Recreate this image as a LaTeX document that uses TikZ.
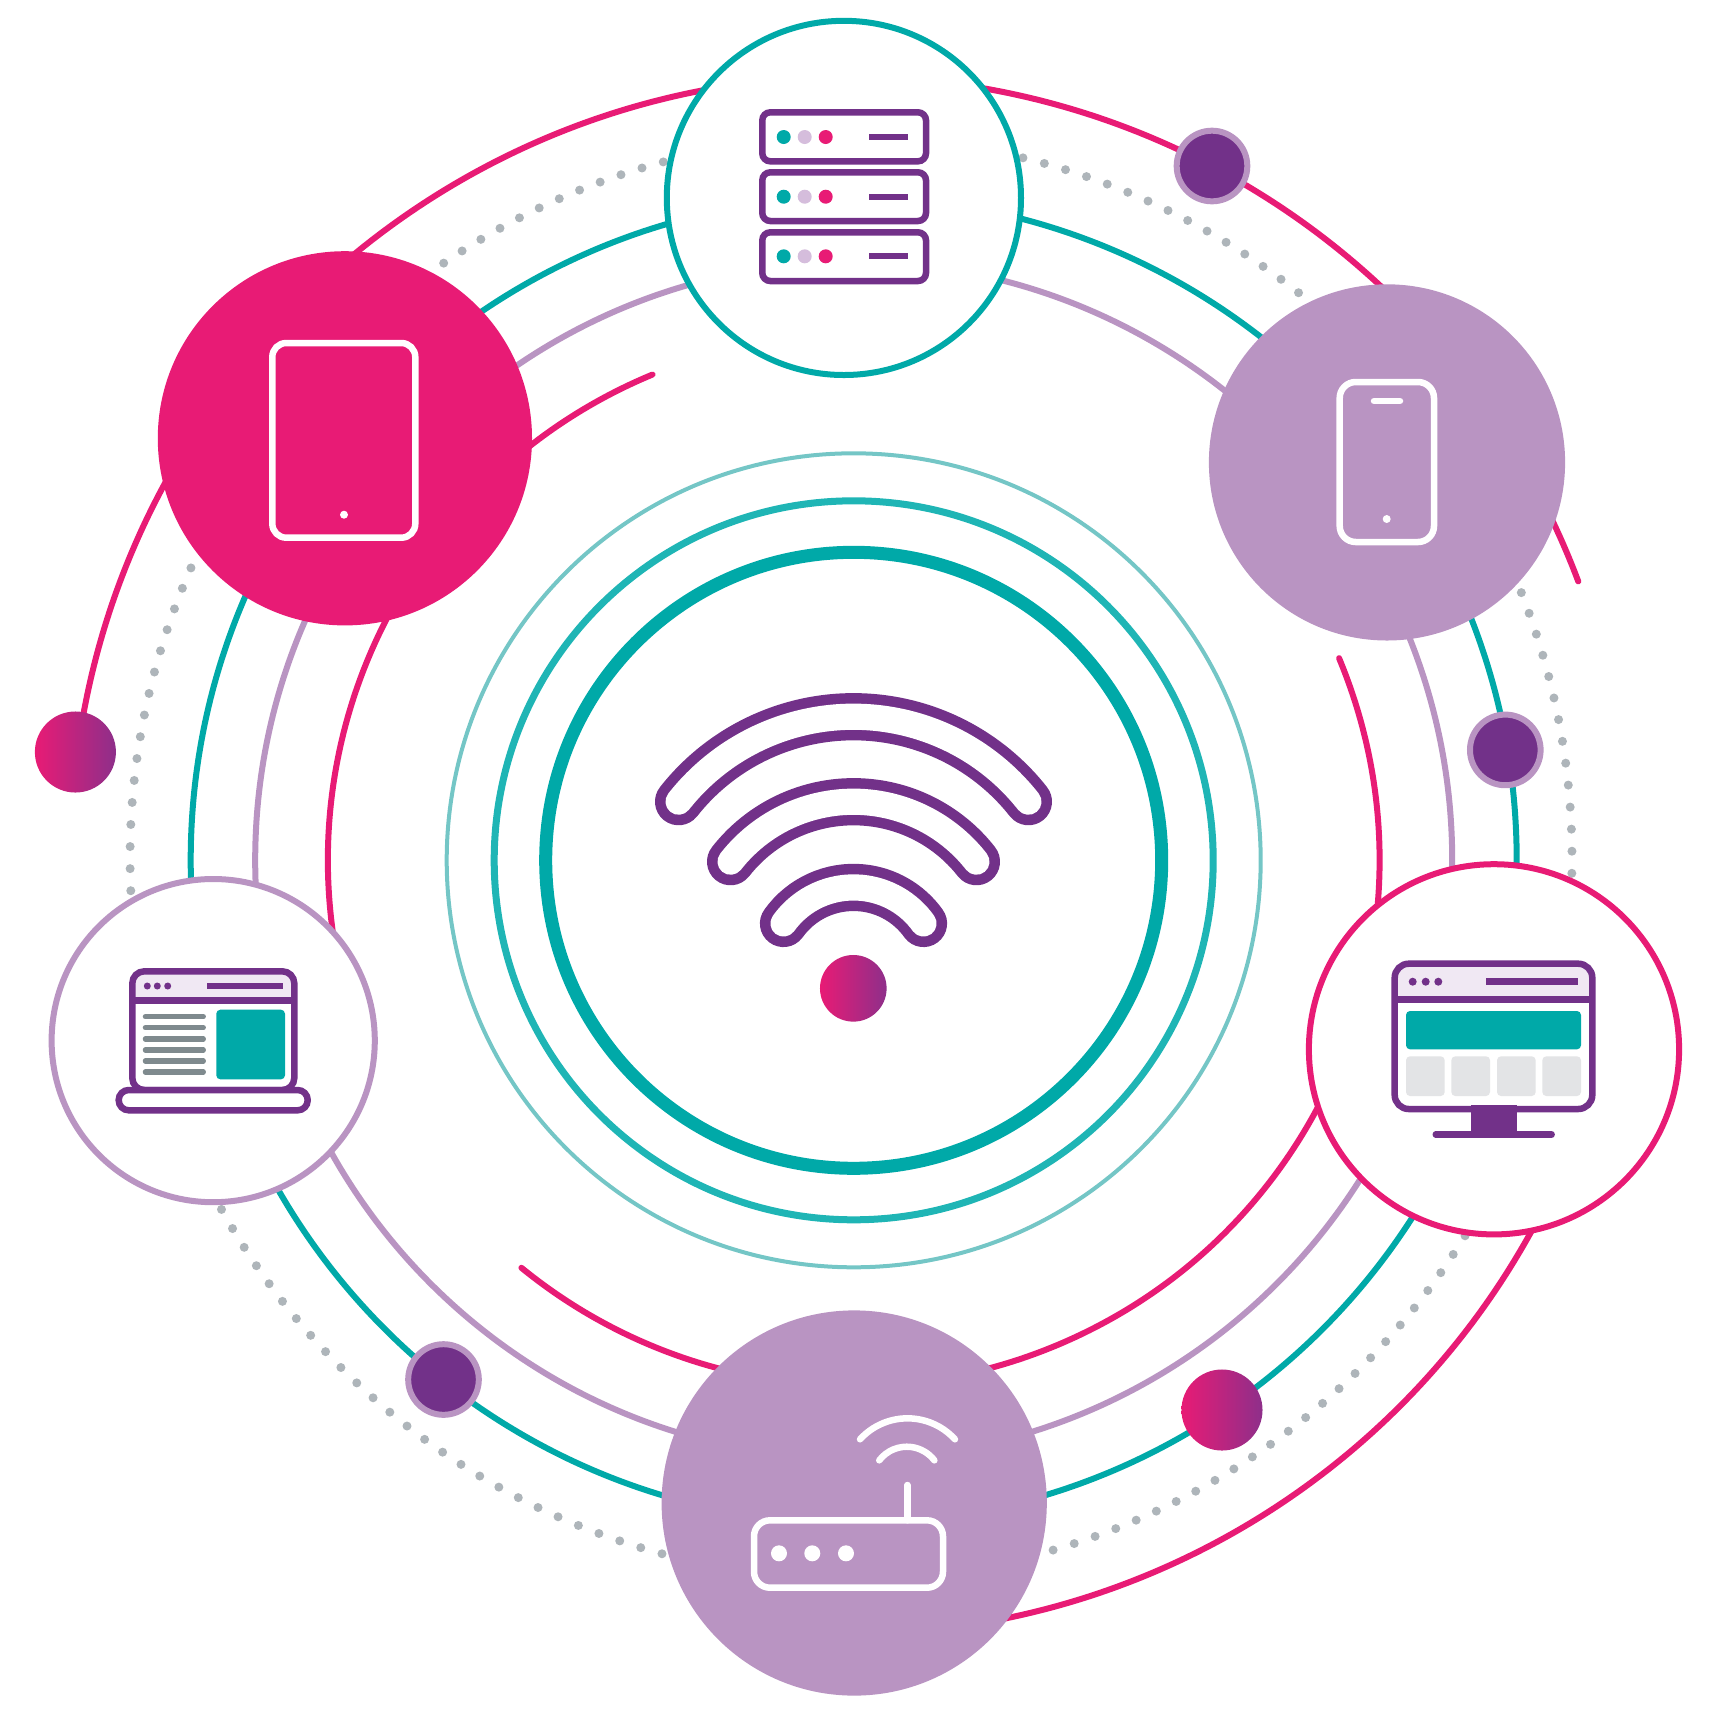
\documentclass[tikz,border=0pt]{standalone}
\definecolor{ringpink}{HTML}{E81B75}
\definecolor{ringteal}{HTML}{00A9A8}
\definecolor{ringmid}{HTML}{1FB5B5}
\definecolor{ringpale}{HTML}{74C6C6}
\definecolor{lilac}{HTML}{B994C2}
\definecolor{plum}{HTML}{723189}
\definecolor{dotgrey}{HTML}{AEB5BA}
\definecolor{linegrey}{HTML}{7F8A8E}
\definecolor{tilegrey}{HTML}{E3E4E6}
\definecolor{headtint}{HTML}{F0E8F3}
\definecolor{paledot}{HTML}{D5BDDC}
\definecolor{gradend}{HTML}{8E2F8A}
\tikzset{
	ring/.style={line width=0.06cm},
	dotring/.style={dotgrey, line width=0.09cm, line cap=round, dash pattern=on 0pt off 0.2207cm},
	disc/.style={circle, inner sep=0pt},
	ball/.style={circle, inner sep=0pt, draw=lilac, line width=0.06cm, fill=plum, minimum size=0.706cm},
	gradball/.style={circle, inner sep=0pt, left color=ringpink, right color=gradend, minimum size=0.81cm},
	plumline/.style={draw=plum, line width=0.065cm},
	whiteline/.style={draw=white, line width=0.065cm, line cap=round},
	bandout/.style={draw=plum, line width=0.472cm, line cap=round},
	bandin/.style={draw=white, line width=0.262cm, line cap=round}
}
\begin{document}
\begin{tikzpicture}[x=0.01cm,y=-0.01cm]
	\useasboundingbox (0,0) rectangle (1714,1714);
	\coordinate (hub) at (853.7,860.3);
	\coordinate (outer) at (849.3,855.4);
	\coordinate (dotted) at (851,858);

	\draw[ring, ringteal] (hub) circle[radius=663];
	\draw[ring, lilac] (hub) circle[radius=598.5];
	\draw[dotring] (dotted) ++(283.8:721) arc[start angle=283.8, end angle=309, radius=721];
	\draw[dotring] (dotted) ++(-21.6:721) arc[start angle=-21.6, end angle=2, radius=721];
	\draw[dotring] (dotted) ++(31.6:721) arc[start angle=31.6, end angle=74.3, radius=721];
	\draw[dotring] (dotted) ++(105.2:721) arc[start angle=105.2, end angle=151.5, radius=721];
	\draw[dotring] (dotted) ++(177.4:721) arc[start angle=177.4, end angle=204.5, radius=721];
	\draw[dotring] (dotted) ++(235.6:721) arc[start angle=235.6, end angle=255.3, radius=721];
	\draw[ring, ringpink, line cap=round] (outer) ++(187.5:778.8) arc[start angle=187.5, end angle=339.4, radius=778.8];
	\draw[ring, ringpink] (outer) ++(27:778.8) arc[start angle=27, end angle=84, radius=778.8];
	\draw[ring, ringpink, line cap=round] (hub) ++(-22.6:525.8) arc[start angle=-22.6, end angle=129.2, radius=525.8];
	\draw[ring, ringpink, line cap=round] (hub) ++(170:525.8) arc[start angle=170, end angle=247.5, radius=525.8];

	\draw[ringteal, line width=0.13cm] (hub) circle[radius=308];
	\draw[ringmid, line width=0.07cm] (hub) circle[radius=359.5];
	\draw[ringpale, line width=0.04cm] (hub) circle[radius=407];

	\node (server) at (843.9,197.9) [disc, draw=ringteal, line width=0.06cm, fill=white, minimum size=3.54cm] {};
	\node (phone) at (1387,462.4) [disc, fill=lilac, minimum size=3.56cm] {};
	\node (tablet) at (344.9,438.3) [disc, fill=ringpink, minimum size=3.74cm] {};
	\node (monitor) at (1494,1049.3) [disc, draw=ringpink, line width=0.06cm, fill=white, minimum size=3.7cm] {};
	\node (laptop) at (213.2,1040.6) [disc, draw=lilac, line width=0.06cm, fill=white, minimum size=3.23cm] {};
	\node (router) at (854.2,1503) [disc, fill=lilac, minimum size=3.85cm] {};

	\node (ballA) at (75.4,752) [gradball] {};
	\node (ballB) at (1222,1410) [gradball] {};
	\node (ballC) at (1212,166) [ball] {};
	\node (ballD) at (1505.3,749.9) [ball] {};
	\node (ballE) at (443.5,1379.5) [ball] {};

	\draw[bandout] (853.5,939.3) ++(218.2:222.6) arc[start angle=218.2, end angle=321.8, radius=222.6];
	\draw[bandin] (853.5,939.3) ++(218.2:222.6) arc[start angle=218.2, end angle=321.8, radius=222.6];
	\draw[bandout] (853.5,957.7) ++(218:156) arc[start angle=218, end angle=322, radius=156];
	\draw[bandin] (853.5,957.7) ++(218:156) arc[start angle=218, end angle=322, radius=156];
	\draw[bandout] (853.5,973.4) ++(215.5:86) arc[start angle=215.5, end angle=324.5, radius=86];
	\draw[bandin] (853.5,973.4) ++(215.5:86) arc[start angle=215.5, end angle=324.5, radius=86];
	\node (wifidot) at (853.3,988.3) [disc, left color=ringpink, right color=gradend, minimum size=0.666cm] {};

	\draw[plumline, rounded corners=0.08cm] (762.3,112.3) rectangle (926,161.3);
	\draw[plumline, rounded corners=0.08cm] (762.3,172.3) rectangle (926,221);
	\draw[plumline, rounded corners=0.08cm] (762.3,232.3) rectangle (926,281);
	\fill[ringteal] (783.7,137) circle[radius=7];
	\fill[paledot] (804.7,137) circle[radius=7];
	\fill[ringpink] (825.7,137) circle[radius=7];
	\fill[ringteal] (783.7,196.7) circle[radius=7];
	\fill[paledot] (804.7,196.7) circle[radius=7];
	\fill[ringpink] (825.7,196.7) circle[radius=7];
	\fill[ringteal] (783.7,256.3) circle[radius=7];
	\fill[paledot] (804.7,256.3) circle[radius=7];
	\fill[ringpink] (825.7,256.3) circle[radius=7];
	\fill[plum] (869.3,134) rectangle (908.3,140);
	\fill[plum] (869.3,193.7) rectangle (908.3,199.7);
	\fill[plum] (869.3,253.3) rectangle (908.3,259.3);

	\draw[whiteline, rounded corners=0.14cm] (272.3,343) rectangle (415.3,537.7);
	\fill[white] (344,514.7) circle[radius=4];

	\draw[whiteline, rounded corners=0.16cm] (1339.7,382) rectangle (1434,542);
	\draw[whiteline] (1374,401) -- (1400,401);
	\fill[white] (1386.7,519) circle[radius=4];

	\fill[plum] (1470.7,1105) rectangle (1516.7,1134);
	\draw[plum, line width=0.064cm, line cap=round] (1435.7,1134.5) -- (1551.7,1134.5);
	\draw[headtint, fill=headtint, rounded corners=0.14cm] (1394.7,999.3) -- (1394.7,963.7) -- (1592.3,963.7) -- (1592.3,999.3) -- cycle;
	\draw[plumline, rounded corners=0.14cm] (1394.7,963.7) rectangle (1592.3,1109);
	\draw[plumline] (1394.7,999.3) -- (1592.3,999.3);
	\fill[plum] (1412.7,981.7) circle[radius=4];
	\fill[plum] (1425.7,981.7) circle[radius=4];
	\fill[plum] (1438.3,981.7) circle[radius=4];
	\fill[plum] (1486,978.3) rectangle (1578.3,984.7);
	\fill[ringteal, rounded corners=0.04cm] (1406,1011) rectangle (1581,1049.3);
	\fill[tilegrey, rounded corners=0.04cm] (1406,1056.3) rectangle (1444.7,1096);
	\fill[tilegrey, rounded corners=0.04cm] (1451.3,1056.3) rectangle (1490,1096);
	\fill[tilegrey, rounded corners=0.04cm] (1497,1056.3) rectangle (1535.7,1096);
	\fill[tilegrey, rounded corners=0.04cm] (1542.3,1056.3) rectangle (1581,1096);

	\draw[headtint, fill=headtint, rounded corners=0.12cm] (132.3,1000.3) -- (132.3,971.3) -- (294.3,971.3) -- (294.3,1000.3) -- cycle;
	\draw[plumline, rounded corners=0.12cm] (132.3,971.3) rectangle (294.3,1090);
	\draw[plumline] (132.3,1000.3) -- (294.3,1000.3);
	\fill[plum] (147.3,986) circle[radius=3.5];
	\fill[plum] (157.3,986) circle[radius=3.5];
	\fill[plum] (167.7,986) circle[radius=3.5];
	\fill[plum] (207,982.7) rectangle (282.7,989);
	\draw[linegrey, line width=0.053cm, line cap=round] (145.4,1016.7) -- (203.3,1016.7);
	\draw[linegrey, line width=0.053cm, line cap=round] (145.4,1027.7) -- (203.3,1027.7);
	\draw[linegrey, line width=0.053cm, line cap=round] (145.4,1039) -- (203.3,1039);
	\draw[linegrey, line width=0.053cm, line cap=round] (145.4,1050) -- (203.3,1050);
	\draw[linegrey, line width=0.053cm, line cap=round] (145.4,1061) -- (203.3,1061);
	\draw[linegrey, line width=0.053cm, line cap=round] (145.4,1072) -- (203.3,1072);
	\fill[ringteal, rounded corners=0.04cm] (216.3,1009.7) rectangle (285,1079.3);
	\draw[plumline, fill=white, rounded corners=0.1cm] (118.7,1090) rectangle (307.7,1110.3);

	\draw[whiteline, rounded corners=0.16cm] (754,1520.3) rectangle (943,1587.7);
	\draw[whiteline] (907.3,1485) -- (907.3,1520.3);
	\draw[whiteline] (907.5,1482.5) ++(222.3:64.2) arc[start angle=222.3, end angle=317.7, radius=64.2];
	\draw[whiteline] (906.8,1481.4) ++(217.4:34.7) arc[start angle=217.4, end angle=322.6, radius=34.7];
	\fill[white] (779,1553.3) circle[radius=8];
	\fill[white] (812.3,1553.3) circle[radius=8];
	\fill[white] (846,1553.3) circle[radius=8];
\end{tikzpicture}
\end{document}
